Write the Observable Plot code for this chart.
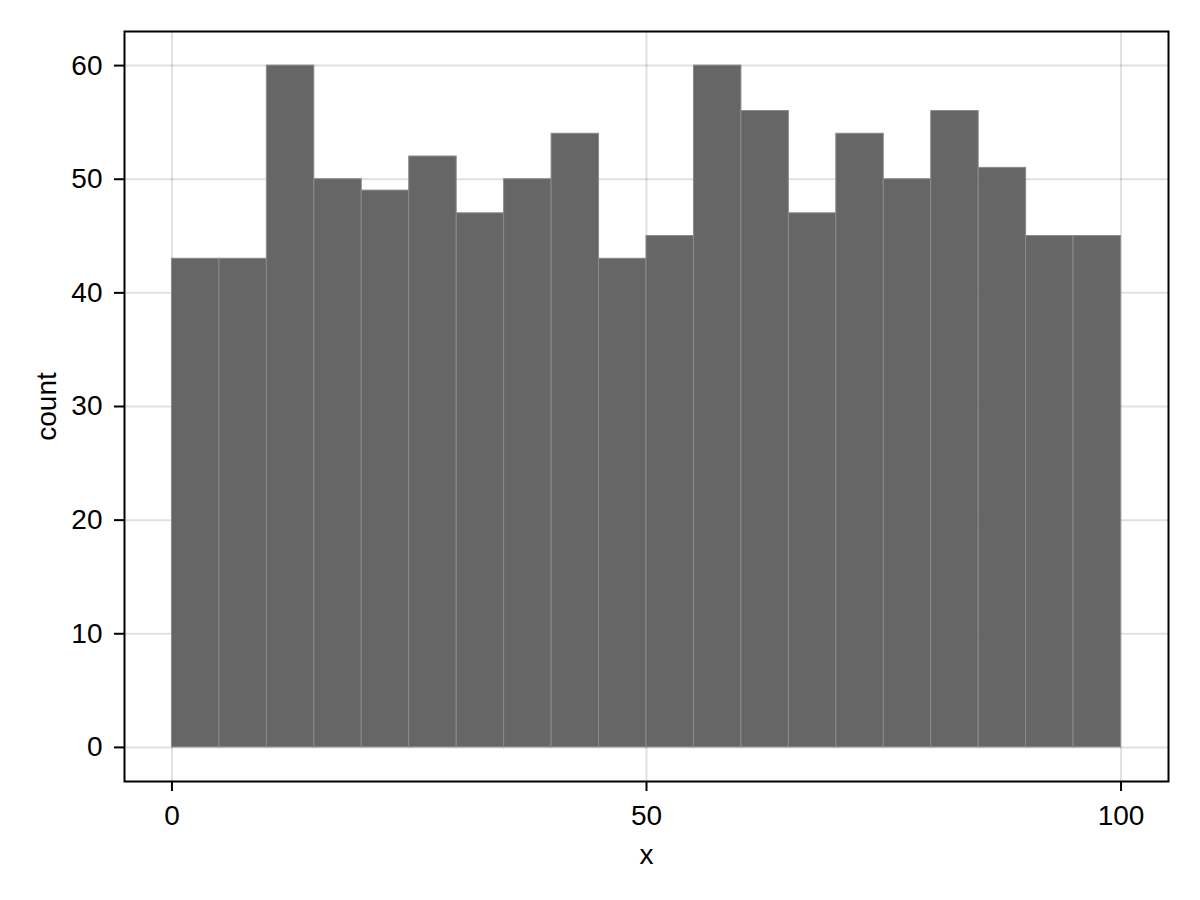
<!DOCTYPE html>
<html>
<head>
<meta charset="utf-8">
<script src="https://cdn.jsdelivr.net/npm/d3@7"></script>
<script src="https://cdn.jsdelivr.net/npm/@observablehq/plot@0.6"></script>
<style>
  body { margin: 0; background: #fff; }
</style>
</head>
<body>
<div id="chart"></div>
<script>
// histogram bins (width 5) and their counts
const binStarts = [0, 5, 10, 15, 20, 25, 30, 35, 40, 45, 50, 55, 60, 65, 70, 75, 80, 85, 90, 95]
const binWidth = 5
const counts = [43, 43, 60, 50, 49, 52, 47, 50, 54, 43, 45, 60, 56, 47, 54, 50, 56, 51, 45, 45]
const xTicks = [0, 50, 100]
const yTicks = [0, 10, 20, 30, 40, 50, 60]

const bins = binStarts.map((x0, i) => ({x0, x1: x0 + binWidth, count: counts[i]}))

const font = "'Liberation Sans', Arial, sans-serif"

let chart = Plot.plot({
  width: 1200,
  height: 900,
  marginTop: 31,
  marginRight: 32,
  marginBottom: 119,
  marginLeft: 124,
  style: {fontFamily: font, fontSize: "28px", background: "#fff", color: "#000"},
  x: {domain: [-5, 105]},
  y: {domain: [-3, 63]},
  marks: [
    Plot.gridX(xTicks, {stroke: "#000", strokeOpacity: 0.12, strokeWidth: 2}),
    Plot.gridY(yTicks, {stroke: "#000", strokeOpacity: 0.12, strokeWidth: 2}),
    Plot.rectY(bins, {x1: "x0", x2: "x1", y: "count", fill: "#666666", stroke: "#8a8a8a", strokeWidth: 1}),
    Plot.axisX({ticks: xTicks, tickSize: 10, tickPadding: 14, strokeWidth: 2, fontSize: 28, fontFamily: font,
      label: "x", labelAnchor: "center", labelArrow: "none", labelOffset: 82}),
    Plot.axisY({ticks: yTicks, tickSize: 10, tickPadding: 12, strokeWidth: 2, fontSize: 28, fontFamily: font,
      label: "count", labelAnchor: "center", labelArrow: "none", labelOffset: 88}),
    Plot.frame({stroke: "#000", strokeWidth: 2})
  ]
})

d3.select("#chart").append(() => chart)
</script>
</body>
</html>
